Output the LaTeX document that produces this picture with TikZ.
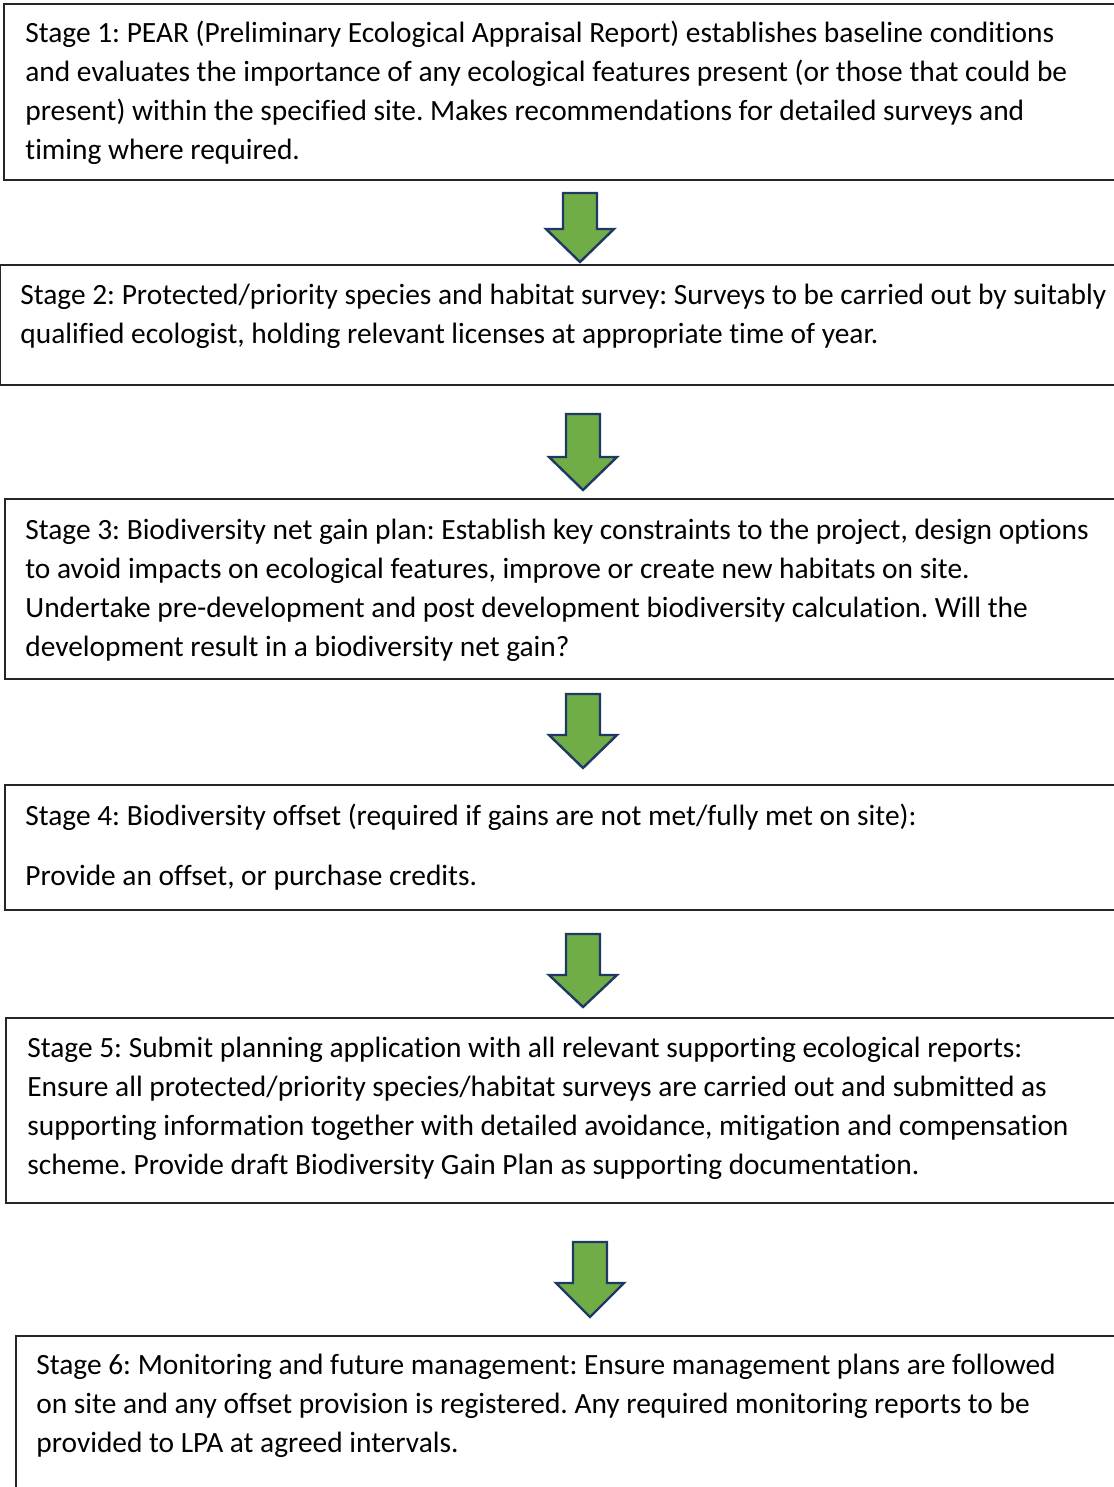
\documentclass[tikz,border=0pt]{standalone}
\usepackage{fontspec}
\setmainfont{Carlito}[Ligatures=NoCommon]
\frenchspacing
\definecolor{arrowgreen}{HTML}{70AD47}
\definecolor{arrownavy}{HTML}{1F3864}
\newcommand{\stagefont}{\fontsize{14.7pt}{19.5pt}\selectfont}
\newcommand{\stagelines}[1]{\parbox[t]{545pt}{\stagefont\raggedright #1}}
\tikzset{
  stagebox/.style={draw=black!85, line width=0.75pt},
  stagetext/.style={anchor=base west, inner sep=0pt},
  downarrow/.style={fill=arrowgreen, draw=arrownavy, line width=1.2pt, line join=miter}
}
\begin{document}
\begin{tikzpicture}[x=0.5pt,y=-0.5pt]
        \useasboundingbox (0,0) rectangle (1113,1487);

        % boxes
        \draw[stagebox] (4,4) rectangle (1125,180);
        \draw[stagebox] (0.5,265) rectangle (1125,385);
        \draw[stagebox] (5,499) rectangle (1125,679);
        \draw[stagebox] (5,785) rectangle (1125,910);
        \draw[stagebox] (6,1018) rectangle (1125,1203);
        \draw[stagebox] (16,1336) rectangle (1125,1500);

        % texts
        \node[stagetext] (s1) at (25,43) {\stagelines{Stage 1: PEAR (Preliminary Ecological Appraisal Report) establishes baseline conditions\\
        and evaluates the importance of any ecological features present (or those that could be\\
        present) within the specified site. Makes recommendations for detailed surveys and\\
        timing where required.}};
        \node[stagetext] (s2) at (20,304) {\stagelines{Stage 2: Protected/priority species and habitat survey: Surveys to be carried out by suitably\\
        qualified ecologist, holding relevant licenses at appropriate time of year.}};
        \node[stagetext] (s3) at (25,539) {\stagelines{Stage 3: Biodiversity net gain plan: Establish key constraints to the project, design options\\
        to avoid impacts on ecological features, improve or create new habitats on site.\\
        Undertake pre-development and post development biodiversity calculation. Will the\\
        development result in a biodiversity net gain?}};
        \node[stagetext] (s4) at (25,825) {\stagelines{Stage 4: Biodiversity offset (required if gains are not met/fully met on site):\\[10.5pt]
        Provide an offset, or purchase credits.}};
        \node[stagetext] (s5) at (27,1057) {\stagelines{Stage 5: Submit planning application with all relevant supporting ecological reports:\\
        Ensure all protected/priority species/habitat surveys are carried out and submitted as\\
        supporting information together with detailed avoidance, mitigation and compensation\\
        scheme. Provide draft Biodiversity Gain Plan as supporting documentation.}};
        \node[stagetext] (s6) at (36,1374) {\stagelines{Stage 6: Monitoring and future management: Ensure management plans are followed\\
        on site and any offset provision is registered. Any required monitoring reports to be\\
        provided to LPA at agreed intervals.}};

        % arrows
        \foreach \x/\t/\w/\b in {580/193/229/262, 583/414/457/490, 583/694/735/768, 583/934/975/1007, 590/1242/1283/1317}
            \draw[downarrow] (\x-17,\t) -- (\x+17,\t) -- (\x+17,\w) -- (\x+34,\w)
                -- (\x,\b) -- (\x-34,\w) -- (\x-17,\w) -- cycle;
\end{tikzpicture}
\end{document}
